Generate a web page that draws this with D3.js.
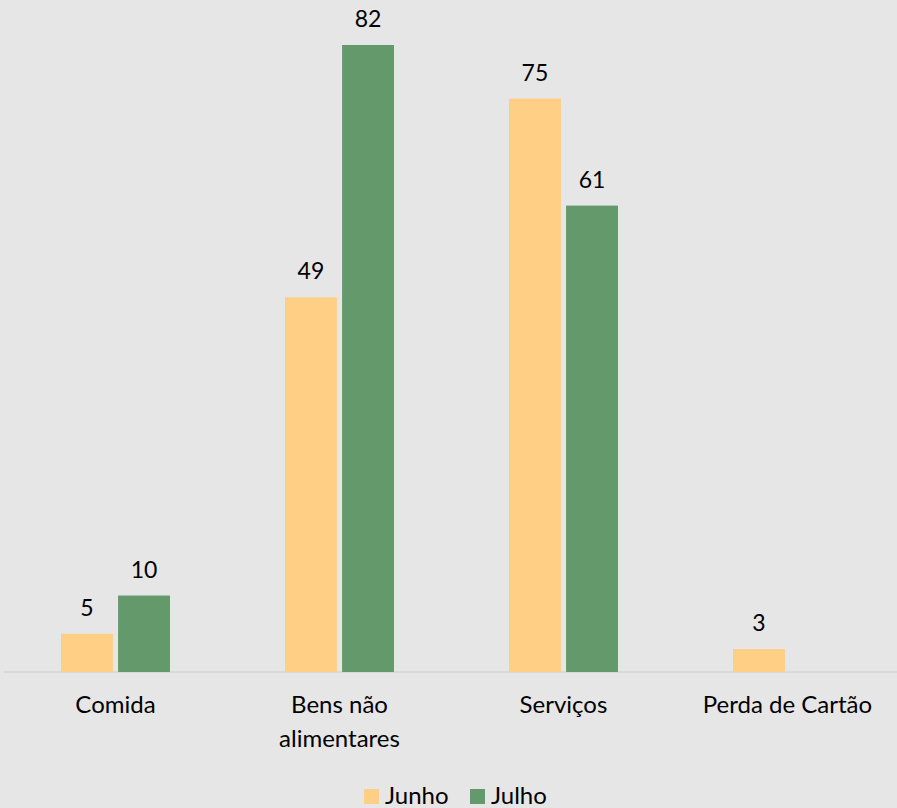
<!DOCTYPE html>
<meta charset="utf-8">
<style>
body { margin: 0; background: #e7e6e6; }
svg { display: block; }
text { font-family: Lato, "Open Sans", sans-serif; fill: #000; }
</style>
<svg width="897" height="808"></svg>
<script src="https://d3js.org/d3.v7.min.js"></script>
<script>
var categories = ["Comida", "Bens não|alimentares", "Serviços", "Perda de Cartão"];
var series = ["Junho", "Julho"];
var junho = [5, 49, 75, 3];
var julho = [10, 82, 61, null];
var colors = ["#fecf85", "#64996c"];

var svg = d3.select("svg"),
    width = +svg.attr("width"),
    height = +svg.attr("height"),
    baseY = 672;

svg.append("rect").attr("width", width).attr("height", height).attr("fill", "#e7e6e6");

var x0 = d3.scaleBand().domain(categories).range([3.5, 899.5]).paddingInner(0).paddingOuter(0);
var x1 = d3.scaleBand().domain(series).range([0, 109]).paddingInner(0.09);
var y = d3.scaleLinear().domain([0, 82]).range([baseY, 45]);

var data = categories.map(function(c, i) {
  return {cat: c, vals: [junho[i], julho[i]]};
});

// baseline
svg.append("line")
  .attr("x1", 4).attr("x2", width)
  .attr("y1", baseY).attr("y2", baseY)
  .attr("stroke", "#d6d6d6").attr("stroke-width", 1.5);

var g = svg.selectAll(".cat").data(data).enter().append("g")
  .attr("class", "cat")
  .attr("transform", function(d) { return "translate(" + (x0(d.cat) + x0.bandwidth() / 2 - 54.5) + ",0)"; });

g.selectAll("rect")
  .data(function(d) { return d.vals.map(function(v, i) { return {s: series[i], v: v, i: i}; }).filter(function(e) { return e.v != null; }); })
  .enter().append("rect")
  .attr("x", function(d) { return x1(d.s); })
  .attr("width", x1.bandwidth())
  .attr("y", function(d) { return y(d.v); })
  .attr("height", function(d) { return baseY - y(d.v); })
  .attr("fill", function(d) { return colors[d.i]; });

g.selectAll(".lbl")
  .data(function(d) { return d.vals.map(function(v, i) { return {s: series[i], v: v}; }).filter(function(e) { return e.v != null; }); })
  .enter().append("text")
  .attr("class", "lbl")
  .attr("x", function(d) { return x1(d.s) + x1.bandwidth() / 2; })
  .attr("y", function(d) { return y(d.v) - 18; })
  .attr("text-anchor", "middle")
  .style("font-size", "23px")
  .text(function(d) { return d.v; });

// category labels
var cl = svg.selectAll(".catlbl").data(categories).enter().append("text")
  .attr("class", "catlbl")
  .attr("text-anchor", "middle")
  .attr("x", function(d) { return x0(d) + x0.bandwidth() / 2; })
  .attr("y", 713)
  .style("font-size", "24px");
cl.each(function(d) {
  var parts = d.split("|");
  var t = d3.select(this);
  parts.forEach(function(p, i) {
    t.append("tspan").attr("x", t.attr("x")).attr("dy", i === 0 ? 0 : 34).text(p);
  });
});

// legend
var legX = [364, 470];
var leg = svg.selectAll(".leg").data(series).enter().append("g")
  .attr("transform", function(d, i) { return "translate(" + legX[i] + ",789)"; });
leg.append("rect").attr("width", 15).attr("height", 15)
  .attr("fill", function(d, i) { return colors[i]; });
leg.append("text").attr("x", 21).attr("y", 14.5)
  .style("font-size", "24px")
  .text(function(d) { return d; });
</script>
